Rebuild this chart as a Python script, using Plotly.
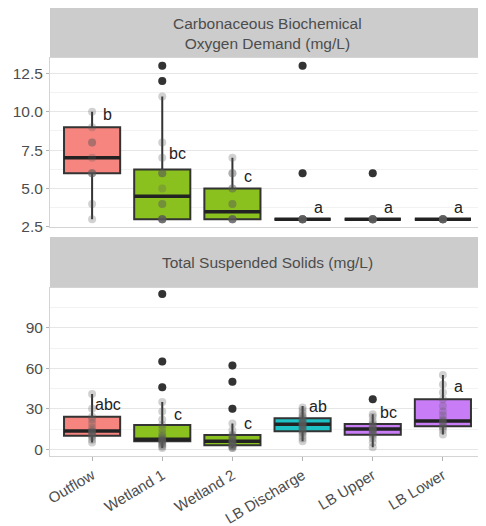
import plotly.graph_objects as go

categories = ["Outflow", "Wetland 1", "Wetland 2", "LB Discharge", "LB Upper", "LB Lower"]
colors = ["#F7857F", "#8BC11E", "#8BC11E", "#1EC1C4", "#C87DF7", "#C87DF7"]

# Panel 1: CBOD (mg/L) box statistics
cbod_q1 = [6, 3, 3, 3, 3, 3]
cbod_med = [7, 4.5, 3.5, 3, 3, 3]
cbod_q3 = [9, 6.25, 5, 3, 3, 3]
cbod_low = [3, 3, 3, 3, 3, 3]
cbod_high = [10, 11, 7, 3, 3, 3]
cbod_outliers = [[], [13, 12], [], [13, 6], [6], []]
cbod_points = [
    [3, 4, 6, 6, 6, 7, 8, 8, 9, 10],
    [3, 3, 3, 3, 3, 3, 4, 4, 5, 6, 6, 6, 7, 8, 11, 12, 13],
    [3, 3, 3, 3, 3, 4, 4, 5, 5, 6, 6, 7],
    [3, 3, 3, 3, 3, 3, 3, 3, 3, 3, 6, 13],
    [3, 3, 3, 3, 3, 3, 3, 3, 3, 3, 6],
    [3, 3, 3, 3, 3, 3, 3, 3, 3, 3],
]
cbod_letters = ["b", "bc", "c", "a", "a", "a"]
cbod_letter_y = [9.8, 7.3, 5.8, 3.75, 3.75, 3.75]

# Panel 2: TSS (mg/L) box statistics
tss_q1 = [10, 6, 3, 13.3, 10.7, 17]
tss_med = [13.5, 7.5, 6, 18.5, 15, 21]
tss_q3 = [24, 18, 10.5, 23, 18.7, 37]
tss_low = [5, 1, 1, 6, 1.5, 11]
tss_high = [41, 35, 19, 32, 26, 55]
tss_outliers = [[], [115, 65, 46], [62, 50, 30], [], [37], []]
tss_points = [
    [5, 7, 9, 10, 11, 12, 13, 13, 14, 16, 19, 22, 24, 30, 41],
    [1, 2, 3, 4, 5, 6, 6, 7, 7, 8, 9, 10, 12, 15, 18, 22, 28, 35, 46, 65, 115],
    [1, 1, 2, 2, 3, 3, 4, 5, 6, 6, 7, 8, 9, 10, 11, 14, 19, 30, 50, 62],
    [6, 8, 10, 12, 13, 14, 15, 16, 17, 18, 18, 19, 19, 20, 21, 22, 23, 24, 25, 27, 29, 31],
    [1.5, 5, 8, 10, 11, 12, 13, 14, 14, 15, 15, 16, 17, 18, 19, 21, 24, 26, 37],
    [11, 14, 16, 17, 19, 20, 21, 22, 25, 28, 32, 37, 42, 48, 55],
]
tss_letters = ["abc", "c", "c", "ab", "bc", "a"]
tss_letter_y = [33, 26, 19, 31.5, 27.5, 46.5]

panel_titles = ["Carbonaceous Biochemical<br>Oxygen Demand (mg/L)", "Total Suspended Solids (mg/L)"]

FONT = "Liberation Sans, Arial, sans-serif"
BOXW = 0.8
fig = go.Figure()


def add_panel(xa, ya, q1, med, q3, low, high, outliers, points, letters, letter_y):
    for i, cat in enumerate(categories):
        fig.add_trace(go.Box(
            x=[i], q1=[q1[i]], median=[med[i]], q3=[q3[i]],
            lowerfence=[low[i]], upperfence=[high[i]],
            width=BOXW, whiskerwidth=0, fillcolor=colors[i],
            line=dict(color="#333333", width=2), boxpoints=False,
            xaxis=xa, yaxis=ya, showlegend=False, hoverinfo="skip"))
    # thick medians
    mx, my = [], []
    for i in range(len(categories)):
        mx += [i - BOXW / 2, i + BOXW / 2, None]
        my += [med[i], med[i], None]
    fig.add_trace(go.Scatter(x=mx, y=my, mode="lines", line=dict(color="#222222", width=3.5),
                             xaxis=xa, yaxis=ya, showlegend=False, hoverinfo="skip"))
    # raw points
    px, py = [], []
    for i, vals in enumerate(points):
        px += [i] * len(vals)
        py += vals
    fig.add_trace(go.Scatter(x=px, y=py, mode="markers",
                             marker=dict(color="rgba(90,90,90,0.28)", size=8),
                             xaxis=xa, yaxis=ya, showlegend=False, hoverinfo="skip"))
    # outliers
    ox, oy = [], []
    for i, vals in enumerate(outliers):
        ox += [i] * len(vals)
        oy += vals
    fig.add_trace(go.Scatter(x=ox, y=oy, mode="markers",
                             marker=dict(color="#333333", size=8),
                             xaxis=xa, yaxis=ya, showlegend=False, hoverinfo="skip"))
    for i, t in enumerate(letters):
        fig.add_annotation(x=i + 0.22, y=letter_y[i], text=t, showarrow=False,
                           xref=xa, yref=ya, xanchor="center", yanchor="middle",
                           font=dict(family=FONT, size=16, color="#222222"))


add_panel("x", "y", cbod_q1, cbod_med, cbod_q3, cbod_low, cbod_high,
          cbod_outliers, cbod_points, cbod_letters, cbod_letter_y)
add_panel("x2", "y2", tss_q1, tss_med, tss_q3, tss_low, tss_high,
          tss_outliers, tss_points, tss_letters, tss_letter_y)

top_dom = [0.5754, 1.0]
bot_dom = [0.0, 0.4221]

axis_common = dict(showline=True, mirror=True, linecolor="#D4D4D4", linewidth=1,
                   zeroline=False, automargin=False)
xcommon = dict(axis_common, range=[-0.6, 5.6], tickmode="array",
               tickvals=list(range(len(categories))), ticktext=categories,
               showgrid=False, tickfont=dict(family=FONT, size=15, color="#4D4D4D"))
fig.update_layout(
    template="none",
    width=478, height=518,
    margin=dict(l=42, r=1, t=50, b=70, autoexpand=False),
    paper_bgcolor="white", plot_bgcolor="white",
    font=dict(family=FONT),
    xaxis=dict(xcommon, anchor="y", domain=[0, 1], showticklabels=False, ticks=""),
    xaxis2=dict(xcommon, anchor="y2", domain=[0, 1], ticks="outside", ticklen=4,
                tickcolor="#B3B3B3", tickangle=-31),
    yaxis=dict(axis_common, domain=top_dom, anchor="x", range=[2.5, 13.5],
               tickmode="linear", tick0=2.5, dtick=2.5, tickformat=".1f",
               gridcolor="#E6E6E6", ticks="outside", ticklen=3, tickcolor="#B3B3B3",
               minor=dict(dtick=1.25, tick0=2.5, showgrid=True, gridcolor="#F2F2F2", ticks=""),
               tickfont=dict(family=FONT, size=15.5, color="#4D4D4D")),
    yaxis2=dict(axis_common, domain=bot_dom, anchor="x2", range=[-5, 119.5],
                tickmode="linear", tick0=0, dtick=30,
                gridcolor="#E6E6E6", ticks="outside", ticklen=3, tickcolor="#B3B3B3",
                minor=dict(dtick=15, tick0=0, showgrid=True, gridcolor="#F2F2F2", ticks=""),
                tickfont=dict(family=FONT, size=15.5, color="#4D4D4D")),
)

# strips
strips = [(1.0, 1.1256), (0.4221, 0.5503)]
for (y0, y1), title in zip(strips, panel_titles):
    fig.add_shape(type="rect", xref="paper", yref="paper", x0=0, x1=1, y0=y0, y1=y1,
                  fillcolor="#CCCCCC", line=dict(width=0), layer="below")
    fig.add_annotation(xref="paper", yref="paper", x=0.5, y=(y0 + y1) / 2, text=title,
                       showarrow=False, xanchor="center", yanchor="middle",
                       font=dict(family=FONT, size=15.5, color="#4D4D4D"))

fig.write_html("out.html")
